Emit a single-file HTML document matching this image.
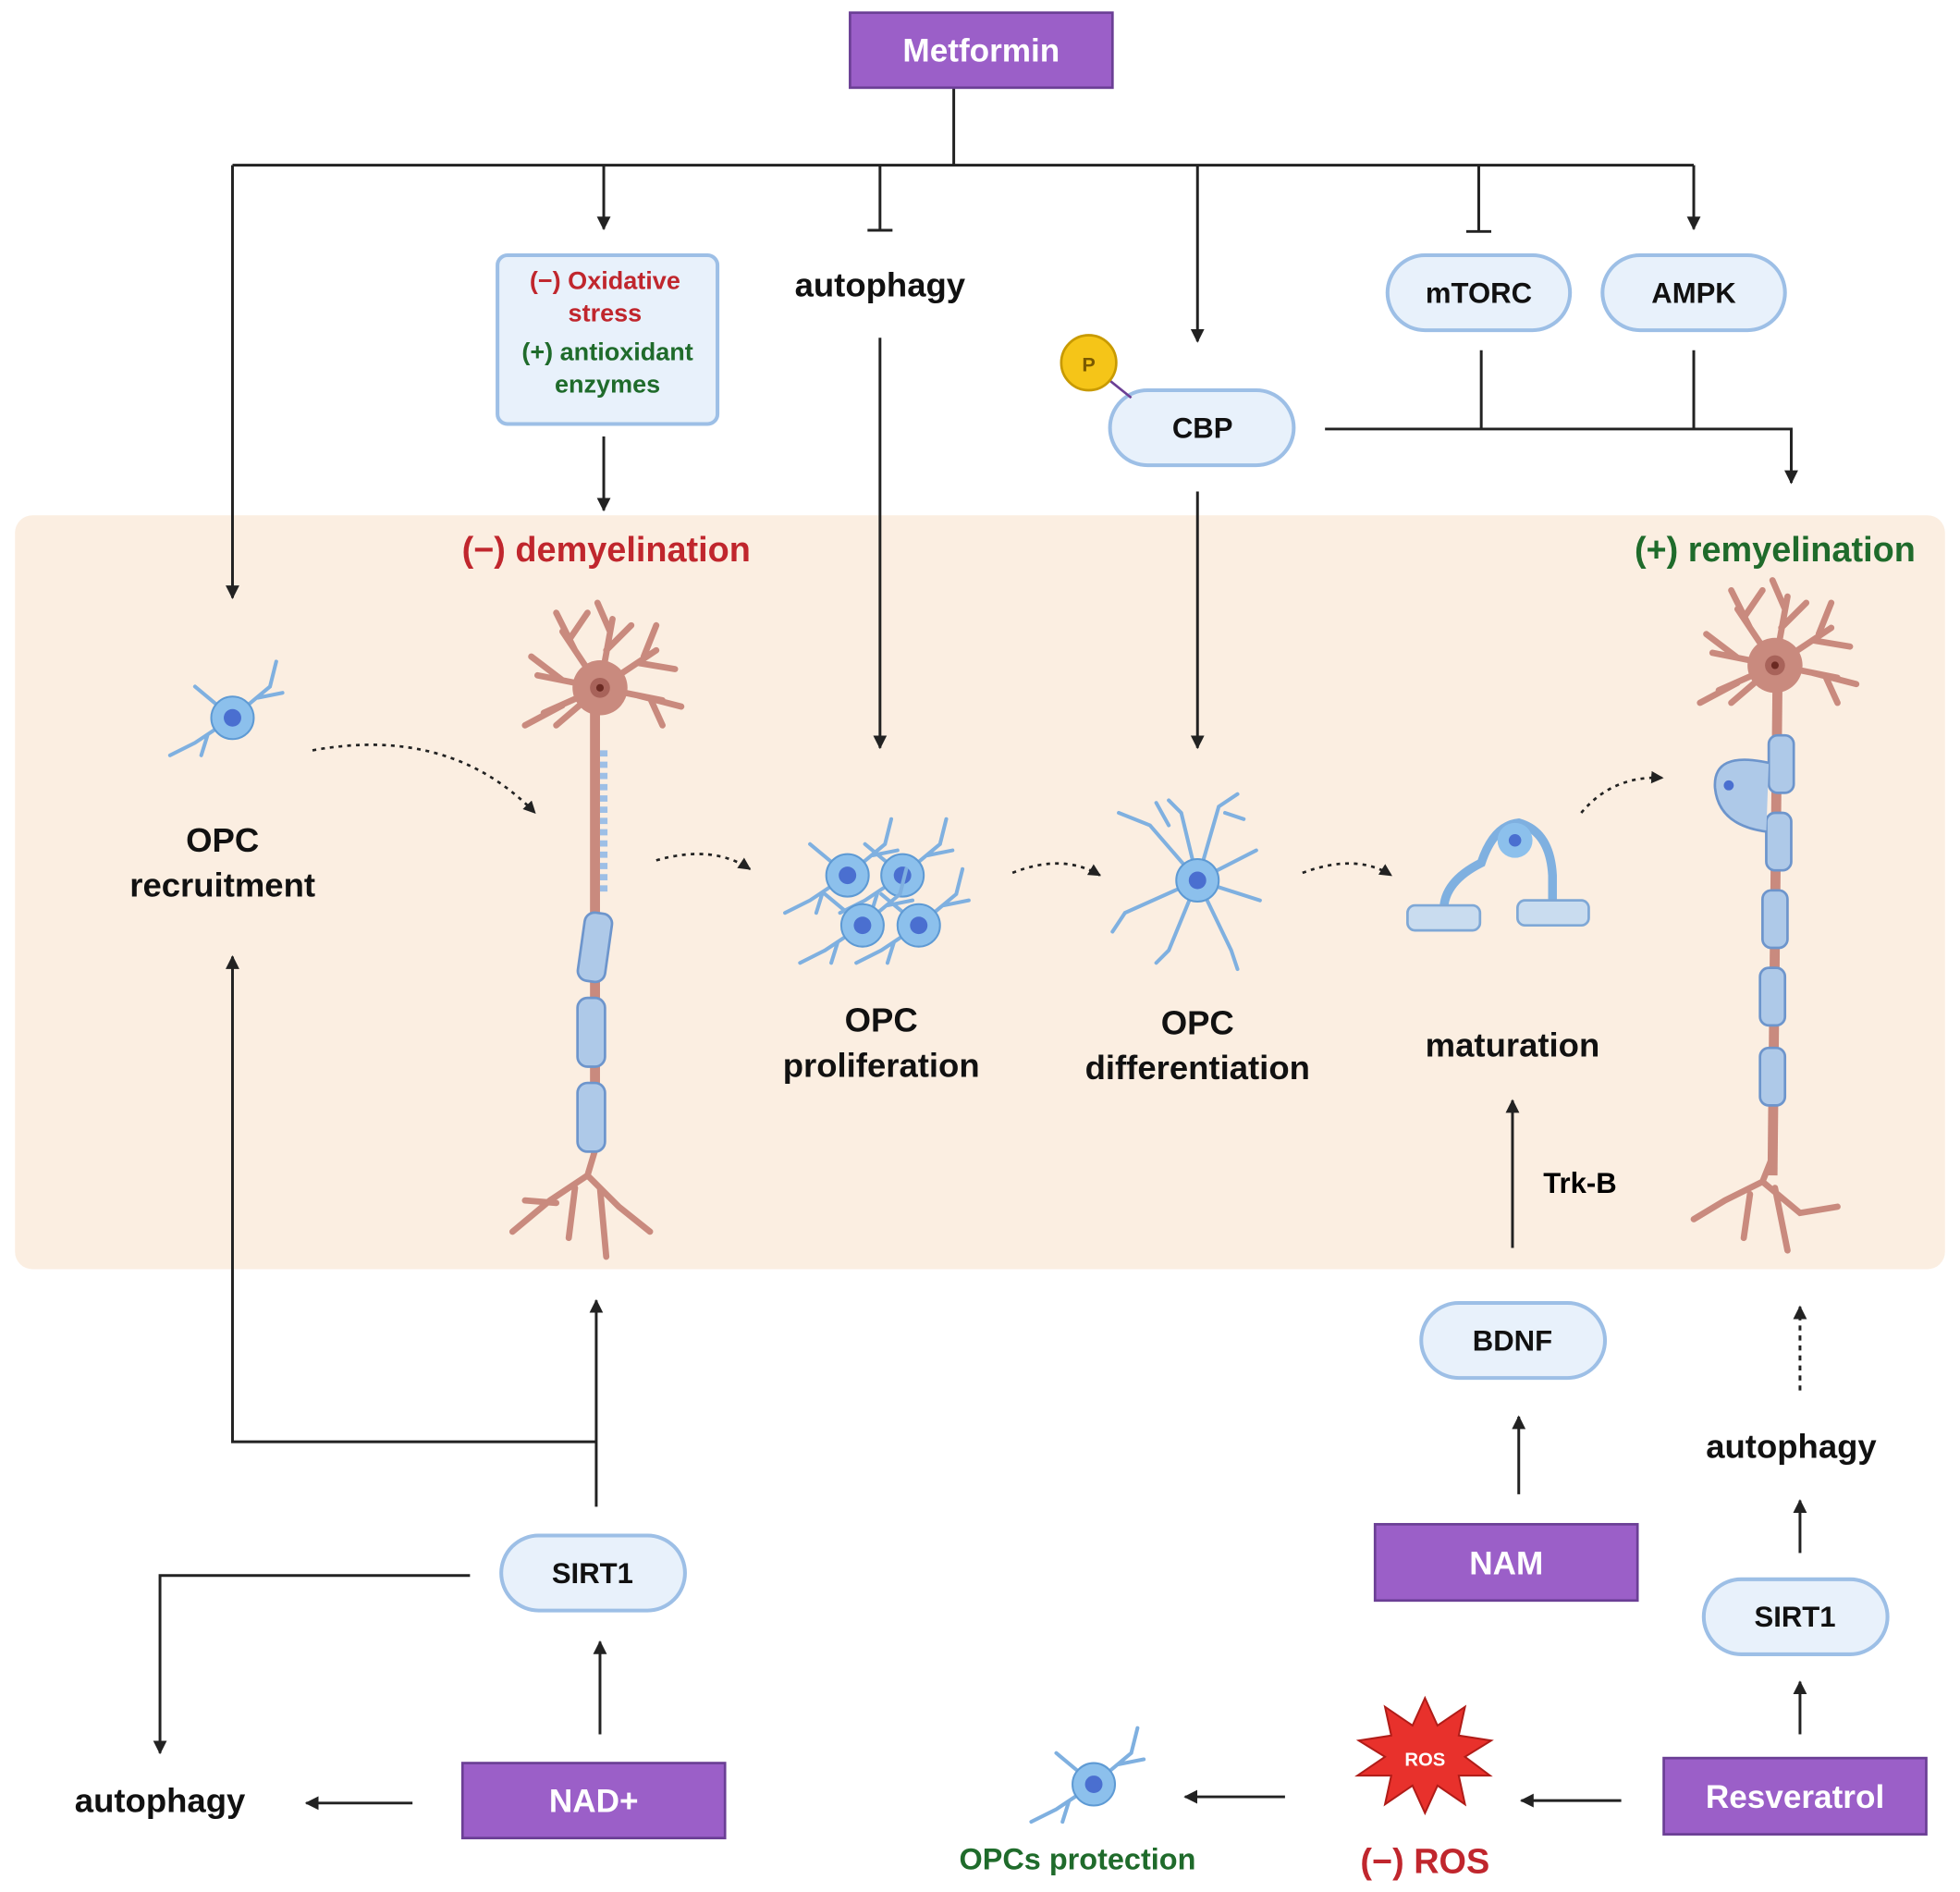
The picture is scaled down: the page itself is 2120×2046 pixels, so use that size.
<!DOCTYPE html>
<html><head><meta charset="utf-8"><style>
html,body{margin:0;padding:0;background:#fff}
svg{display:block}
text{font-family:"Liberation Sans",sans-serif;font-weight:bold}
</style></head><body>
<svg width="2120" height="2046" viewBox="0 0 1568 1513" xmlns="http://www.w3.org/2000/svg">
<defs>
<marker id="a" viewBox="0 0 10 10" refX="9" refY="5" markerWidth="5" markerHeight="5" orient="auto"><path d="M0,0L10,5L0,10z" fill="#222"/></marker>
<g id="neuron">
 <g stroke="#c98a7e" stroke-width="5" fill="none" stroke-linecap="round">
  <path d="M0,0 L-50,-10 M-30,-6 L-55,-25 M0,0 L-45,20 M-30,14 L-60,30 M0,0 L-30,-45 M-20,-30 L-35,-60 M-25,-38 L-10,-60 M0,0 L10,-55 M5,-30 L25,-50 M8,-45 L-2,-68 M0,0 L45,-30 M30,-20 L60,-15 M35,-25 L45,-50 M0,0 L50,10 M30,6 L65,15 M40,8 L50,30 M0,0 L-35,30"/>
 </g>
 <circle cx="0" cy="0" r="22" fill="#c98a7e"/>
 <circle cx="0" cy="0" r="8" fill="#a8635a"/>
 <circle cx="0" cy="0" r="3" fill="#6b2a22"/>
</g>
<g id="opc">
 <g stroke="#7fb0e0" stroke-width="3" fill="none" stroke-linecap="round">
  <path d="M0,0 L30,-25 L35,-45 M20,-16 L40,-20 M0,0 L-30,20 L-50,30 M-20,14 L-25,30 M0,0 L-30,-25"/>
 </g>
 <circle cx="0" cy="0" r="17" fill="#8cc0ec" stroke="#5e9ad4" stroke-width="1.5"/>
 <circle cx="0" cy="0" r="7" fill="#4a6fd0"/>
</g>
</defs>

<!-- panel -->
<rect x="12" y="412" width="1544" height="603" rx="14" fill="#fbeee1"/>

<!-- top connectors -->
<g stroke="#222" stroke-width="2.2" fill="none">
<path d="M763,70V132M186,132H1355"/>
<path d="M186,132V478" marker-end="url(#a)"/>
<path d="M483,132V183" marker-end="url(#a)"/>
<path d="M704,132V183M694,184H714"/>
<path d="M958,132V273" marker-end="url(#a)"/>
<path d="M1183,132V185M1173,185H1193"/>
<path d="M1355,132V183" marker-end="url(#a)"/>
<path d="M483,349V408" marker-end="url(#a)"/>
<path d="M704,270V598" marker-end="url(#a)"/>
<path d="M958,393V598" marker-end="url(#a)"/>
<path d="M1060,343H1433V386" marker-end="url(#a)"/>
<path d="M1185,280V343M1355,280V343"/>
<path d="M1210,998V880" marker-end="url(#a)"/>
<path d="M1215,1195V1133" marker-end="url(#a)"/>
<path d="M1440,1112V1045" stroke-dasharray="4,4" marker-end="url(#a)"/>
<path d="M1440,1242V1200" marker-end="url(#a)"/>
<path d="M1440,1387V1345" marker-end="url(#a)"/>
<path d="M1297,1440H1217" marker-end="url(#a)"/>
<path d="M1028,1437H948" marker-end="url(#a)"/>
<path d="M480,1387V1313" marker-end="url(#a)"/>
<path d="M477,1205V1040" marker-end="url(#a)"/>
<path d="M477,1153H186V765" marker-end="url(#a)"/>
<path d="M376,1260H128V1402" marker-end="url(#a)"/>
<path d="M330,1442H245" marker-end="url(#a)"/>
</g>
<!-- dotted curves -->
<g stroke="#222" stroke-width="2" fill="none" stroke-dasharray="3,4" marker-end="url(#a)">
<path d="M250,600Q360,580 428,650"/>
<path d="M525,688Q570,675 600,695"/>
<path d="M810,698Q850,682 880,700"/>
<path d="M1042,698Q1085,682 1113,700"/>
<path d="M1265,650Q1290,620 1330,622"/>
</g>

<!-- boxes -->
<g stroke="#6b3f95" stroke-width="2" fill="#9b5fc8">
<rect x="680" y="10" width="210" height="60"/>
<rect x="1100" y="1219" width="210" height="61"/>
<rect x="1331" y="1406" width="210" height="61"/>
<rect x="370" y="1410" width="210" height="60"/>
</g>
<g fill="#fff" font-size="26" text-anchor="middle">
<text x="785" y="49">Metformin</text>
<text x="1205" y="1259">NAM</text>
<text x="1436" y="1446">Resveratrol</text>
<text x="475" y="1449">NAD+</text>
</g>
<rect x="398" y="204" width="176" height="135" rx="8" fill="#e8f1fb" stroke="#9dbfe6" stroke-width="3"/>
<g font-size="20" text-anchor="middle">
<text x="484" y="231" fill="#c0262d">(−) Oxidative</text>
<text x="484" y="257" fill="#c0262d">stress</text>
<text x="486" y="288" fill="#1f6b2b">(+) antioxidant</text>
<text x="486" y="314" fill="#1f6b2b">enzymes</text>
</g>
<g fill="#e8f1fb" stroke="#9dbfe6" stroke-width="3">
<rect x="1110" y="204" width="146" height="60" rx="30"/>
<rect x="1282" y="204" width="146" height="60" rx="30"/>
<rect x="888" y="312" width="147" height="60" rx="30"/>
<rect x="1137" y="1042" width="147" height="60" rx="30"/>
<rect x="1363" y="1263" width="147" height="60" rx="30"/>
<rect x="401" y="1228" width="147" height="60" rx="30"/>
</g>
<path d="M880,298L905,318" stroke="#6b3f95" stroke-width="2"/>
<circle cx="871" cy="290" r="22" fill="#f5c518" stroke="#c89a00" stroke-width="2"/>
<text x="871" y="297" font-size="16" fill="#7a5a00" text-anchor="middle" font-weight="normal">P</text>
<g font-size="23" text-anchor="middle" fill="#111">
<text x="1183" y="242">mTORC</text>
<text x="1355" y="242">AMPK</text>
<text x="962" y="350">CBP</text>
<text x="1210" y="1080">BDNF</text>
<text x="1436" y="1301">SIRT1</text>
<text x="474" y="1266">SIRT1</text>
</g>
<g font-size="27" text-anchor="middle" fill="#111">
<text x="704" y="237">autophagy</text>
<text x="178" y="681">OPC</text>
<text x="178" y="717">recruitment</text>
<text x="705" y="825">OPC</text>
<text x="705" y="861">proliferation</text>
<text x="958" y="827">OPC</text>
<text x="958" y="863">differentiation</text>
<text x="1210" y="845">maturation</text>
<text x="1433" y="1166">autophagy</text>
<text x="128" y="1449">autophagy</text>
</g>
<text x="1264" y="954" font-size="23" text-anchor="middle">Trk-B</text>
<text x="485" y="449" font-size="28" fill="#c0262d" text-anchor="middle">(−) demyelination</text>
<text x="1420" y="449" font-size="28" fill="#1f6b2b" text-anchor="middle">(+) remyelination</text>
<text x="1140" y="1498" font-size="28" fill="#c0262d" text-anchor="middle">(−) ROS</text>
<text x="862" y="1495" font-size="24" fill="#1f6b2b" text-anchor="middle">OPCs protection</text>

<!-- ROS star -->
<polygon points="1140,1358 1150,1380 1172,1365 1167,1388 1193,1392 1172,1405 1192,1420 1167,1420 1172,1443 1150,1428 1140,1450 1130,1428 1108,1443 1113,1420 1086,1420 1108,1405 1087,1392 1113,1388 1108,1365 1130,1380" fill="#e8312c" stroke="#b01c18" stroke-width="1.5"/>
<text x="1140" y="1412" font-size="15" fill="#fff" text-anchor="middle">ROS</text>

<!-- neurons -->
<g>
<path d="M476,560V900" stroke="#c98a7e" stroke-width="8"/>
<use href="#neuron" x="480" y="550"/>
<g stroke="#c98a7e" stroke-width="5" fill="none" stroke-linecap="round"><path d="M476,920L470,940L440,960L410,985M470,940L495,965L520,985M460,950L455,990M480,950L485,1005M445,962L420,960"/></g>
<rect x="465" y="730" width="22" height="55" rx="8" fill="#aec9e8" stroke="#6d95cc" stroke-width="2" transform="rotate(8 476 757)"/>
<rect x="462" y="798" width="22" height="55" rx="8" fill="#aec9e8" stroke="#6d95cc" stroke-width="2"/>
<rect x="462" y="866" width="22" height="55" rx="8" fill="#aec9e8" stroke="#6d95cc" stroke-width="2"/>
<path d="M483,600V715" stroke="#9dbfe6" stroke-width="6" stroke-dasharray="5,4"/>

<path d="M1422,545L1418,940" stroke="#c98a7e" stroke-width="8"/>
<use href="#neuron" x="1420" y="532"/>
<g stroke="#c98a7e" stroke-width="5" fill="none" stroke-linecap="round"><path d="M1418,925L1410,945L1380,960L1355,975M1410,945L1440,970L1470,965M1400,955L1395,990M1420,950L1430,1000"/></g>
<g fill="#aec9e8" stroke="#6d95cc" stroke-width="2">
<rect x="1415" y="588" width="20" height="46" rx="7"/>
<rect x="1413" y="650" width="20" height="46" rx="7"/>
<rect x="1410" y="712" width="20" height="46" rx="7"/>
<rect x="1408" y="774" width="20" height="46" rx="7"/>
<rect x="1408" y="838" width="20" height="46" rx="7"/>
</g>
<path d="M1415,610Q1370,600 1372,630Q1375,660 1413,665" fill="#aec9e8" stroke="#6d95cc" stroke-width="2"/>
<circle cx="1383" cy="628" r="4" fill="#4a6fd0"/>
</g>
<!-- OPC cells -->
<use href="#opc" x="186" y="574"/>
<use href="#opc" x="875" y="1427"/>
<g>
<use href="#opc" x="678" y="700"/><use href="#opc" x="722" y="700"/>
<use href="#opc" x="690" y="740"/><use href="#opc" x="735" y="740"/>
</g>
<g stroke="#7fb0e0" stroke-width="3" fill="none" stroke-linecap="round">
<path d="M958,704L920,660L895,650M958,704L945,650L935,640M958,704L975,645L990,635M958,704L1005,680M958,704L1008,720M958,704L985,760L990,775M958,704L935,760L925,770M958,704L900,730L890,745M935,660L925,642M980,650L995,655"/>
</g>
<circle cx="958" cy="704" r="17" fill="#8cc0ec" stroke="#5e9ad4" stroke-width="1.5"/><circle cx="958" cy="704" r="7" fill="#4a6fd0"/>
<!-- maturation -->
<path d="M1155,728Q1155,705 1185,690Q1195,660 1215,658Q1240,665 1242,700L1242,725" fill="none" stroke="#7fb0e0" stroke-width="7"/>
<circle cx="1212" cy="672" r="14" fill="#8cc0ec"/><circle cx="1212" cy="672" r="5" fill="#4a6fd0"/>
<rect x="1126" y="724" width="58" height="20" rx="6" fill="#c9dcef" stroke="#7fa8d6" stroke-width="2"/>
<rect x="1214" y="720" width="57" height="20" rx="6" fill="#c9dcef" stroke="#7fa8d6" stroke-width="2"/>
</svg>
</body></html>
